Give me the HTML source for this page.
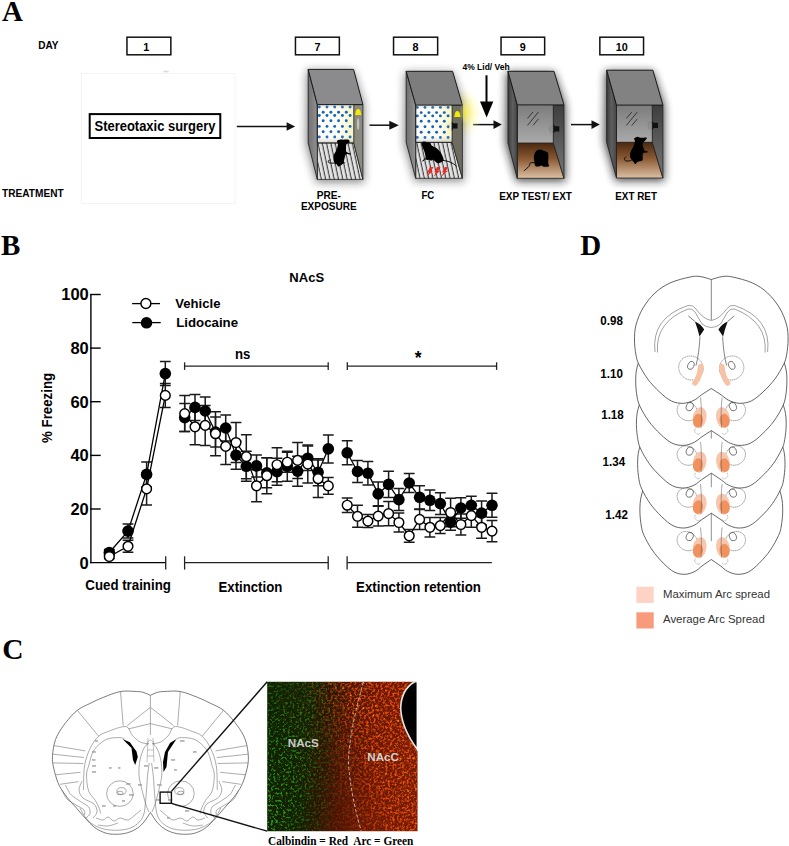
<!DOCTYPE html>
<html><head><meta charset="utf-8"><title>Figure</title>
<style>html,body{margin:0;padding:0;background:#fff;} body{width:789px;height:846px;overflow:hidden;font-family:"Liberation Sans", sans-serif;} svg{display:block;}</style>
</head><body>
<svg width="789" height="846" viewBox="0 0 789 846">
<rect width="789" height="846" fill="#fff"/>
<text x="2" y="21" font-family='"Liberation Serif", serif' font-size="29" font-weight="bold" text-anchor="start" fill="#000" >A</text>
<text x="1" y="255.3" font-family='"Liberation Serif", serif' font-size="29" font-weight="bold" text-anchor="start" fill="#000" >B</text>
<text x="2.2" y="658.5" font-family='"Liberation Serif", serif' font-size="29.5" font-weight="bold" text-anchor="start" fill="#000" >C</text>
<text x="580.3" y="255" font-family='"Liberation Serif", serif' font-size="29" font-weight="bold" text-anchor="start" fill="#000" >D</text>
<text transform="translate(38.3,48.6) scale(1,1.12)" font-family='"Liberation Sans", sans-serif' font-size="10.05" font-weight="bold" text-anchor="start" fill="#000" >DAY</text>
<text transform="translate(2.1,196.7) scale(1,1.1)" font-family='"Liberation Sans", sans-serif' font-size="10.13" font-weight="bold" text-anchor="start" fill="#000" >TREATMENT</text>
<rect x="126.95" y="37.2" width="43.89999999999999" height="17.6" fill="#fff" stroke="#111" stroke-width="1.5"/>
<text transform="translate(146.3,50.6) scale(1,1.05)" font-family='"Liberation Sans", sans-serif' font-size="10.8" font-weight="bold" text-anchor="middle" fill="#000" >1</text>
<rect x="295.45" y="37.2" width="43.900000000000034" height="17.6" fill="#fff" stroke="#111" stroke-width="1.5"/>
<text transform="translate(317.4,50.6) scale(1,1.05)" font-family='"Liberation Sans", sans-serif' font-size="10.8" font-weight="bold" text-anchor="middle" fill="#000" >7</text>
<rect x="393.55" y="37.2" width="44.099999999999966" height="17.6" fill="#fff" stroke="#111" stroke-width="1.5"/>
<text transform="translate(415.6,50.6) scale(1,1.05)" font-family='"Liberation Sans", sans-serif' font-size="10.8" font-weight="bold" text-anchor="middle" fill="#000" >8</text>
<rect x="501.05" y="37.2" width="43.599999999999966" height="17.6" fill="#fff" stroke="#111" stroke-width="1.5"/>
<text transform="translate(522.85,50.6) scale(1,1.05)" font-family='"Liberation Sans", sans-serif' font-size="10.8" font-weight="bold" text-anchor="middle" fill="#000" >9</text>
<rect x="599.85" y="37.2" width="43.69999999999993" height="17.6" fill="#fff" stroke="#111" stroke-width="1.5"/>
<text transform="translate(621.7,50.6) scale(1,1.05)" font-family='"Liberation Sans", sans-serif' font-size="10.8" font-weight="bold" text-anchor="middle" fill="#000" >10</text>
<rect x="81.5" y="73.5" width="153.5" height="130" fill="none" stroke="#f4f4f4" stroke-width="1"/>
<ellipse cx="166" cy="71.6" rx="3" ry="1" fill="#ddd"/>
<rect x="89.7" y="114.1" width="130.6" height="23.9" fill="#fff" stroke="#000" stroke-width="2"/>
<text transform="translate(155,130.8) scale(1,1.12)" font-family='"Liberation Sans", sans-serif' font-size="12.96" font-weight="bold" text-anchor="middle" fill="#000" >Stereotaxic surgery</text>
<line x1="236.8" y1="126.5" x2="287.6" y2="126.5" stroke="#111" stroke-width="1.5"/>
<polygon points="286.6,122.3 295.1,126.5 286.6,130.7" fill="#111"/>
<line x1="369.5" y1="125.2" x2="390.3" y2="125.2" stroke="#111" stroke-width="1.5"/>
<polygon points="389.3,120.7 398.8,125.2 389.3,129.7" fill="#111"/>
<line x1="473" y1="124.6" x2="494.5" y2="124.6" stroke="#111" stroke-width="1.5"/>
<polygon points="493.5,120.3 501.8,124.6 493.5,128.9" fill="#111"/>
<line x1="571" y1="124.6" x2="592.5" y2="124.6" stroke="#111" stroke-width="1.5"/>
<polygon points="591.5,120.3 599.8,124.6 591.5,128.9" fill="#111"/>
<line x1="486.5" y1="75.3" x2="486.5" y2="103" stroke="#000" stroke-width="2"/>
<polygon points="480,101.4 493.3,101.4 486.6,117.6" fill="#000"/>
<text transform="translate(462.5,70.1) scale(1,1.12)" font-family='"Liberation Sans", sans-serif' font-size="8.48" font-weight="bold" text-anchor="start" fill="#000" >4% Lid/ Veh</text>
<defs>
<filter id="blur3" x="-50%" y="-50%" width="200%" height="200%"><feGaussianBlur stdDeviation="3.2"/></filter>
<filter id="blur4" x="-50%" y="-50%" width="200%" height="200%"><feGaussianBlur stdDeviation="4"/></filter>
<filter id="blur1" x="-50%" y="-50%" width="200%" height="200%"><feGaussianBlur stdDeviation="0.6"/></filter>
<filter id="blur6" x="-50%" y="-50%" width="200%" height="200%"><feGaussianBlur stdDeviation="6"/></filter>
<linearGradient id="leftface" x1="0" y1="0" x2="1" y2="0"><stop offset="0" stop-color="#707070"/><stop offset="1" stop-color="#929292"/></linearGradient>
<linearGradient id="leftfaceD" x1="0" y1="0" x2="1" y2="0"><stop offset="0" stop-color="#3c3c3c"/><stop offset="0.5" stop-color="#5e5e5e"/><stop offset="1" stop-color="#454545"/></linearGradient>
<linearGradient id="backD" x1="0" y1="0" x2="0" y2="1"><stop offset="0" stop-color="#7c7c7c"/><stop offset="1" stop-color="#aaaaaa"/></linearGradient>
<linearGradient id="rightD" x1="0" y1="0" x2="0" y2="1"><stop offset="0" stop-color="#3e3e3e"/><stop offset="1" stop-color="#777"/></linearGradient>
<linearGradient id="floorB" x1="0" y1="0" x2="0" y2="1"><stop offset="0" stop-color="#4a2810"/><stop offset="0.45" stop-color="#8a5a34"/><stop offset="1" stop-color="#dcc0a4"/></linearGradient>
<linearGradient id="backL" x1="0" y1="0" x2="1" y2="0"><stop offset="0" stop-color="#ffffff"/><stop offset="0.6" stop-color="#fdfdf6"/><stop offset="1" stop-color="#f6f3c0"/></linearGradient>
<linearGradient id="backL0" x1="0" y1="0" x2="0" y2="1"><stop offset="0" stop-color="#777" stop-opacity="0.35"/><stop offset="0.12" stop-color="#fff" stop-opacity="0"/><stop offset="0.8" stop-color="#fff" stop-opacity="0"/><stop offset="1" stop-color="#888" stop-opacity="0.4"/></linearGradient>
<radialGradient id="glow" cx="0.5" cy="0.5" r="0.5"><stop offset="0" stop-color="#fff64a" stop-opacity="0.95"/><stop offset="0.5" stop-color="#fffa90" stop-opacity="0.5"/><stop offset="1" stop-color="#fffbd0" stop-opacity="0"/></radialGradient>
<pattern id="stripes" patternUnits="userSpaceOnUse" width="4.3" height="40" patternTransform="skewX(12)"><rect width="4.3" height="40" fill="#e2e2e2"/><rect x="3.2" width="0.95" height="40" fill="#222"/></pattern>
</defs>
<ellipse cx="464" cy="113" rx="19" ry="26" fill="url(#glow)"/>
<g filter="url(#blur4)" opacity="0.5"><polygon points="306.7,70.4 353.59999999999997,70.4 364.4,104.60000000000001 364.4,182.4 316.3,182.4 305.7,143.0" fill="#1a1a1a"/></g>
<polygon points="317.3,104.60000000000001 353.8,104.60000000000001 353.8,143.0 317.3,143.0" fill="url(#backL)"/>
<circle cx="319.3" cy="107.0" r="1.45" fill="#1463b6"/>
<circle cx="327.0" cy="107.0" r="1.45" fill="#1463b6"/>
<circle cx="334.7" cy="107.0" r="1.45" fill="#1463b6"/>
<circle cx="342.4" cy="107.0" r="1.45" fill="#1463b6"/>
<circle cx="350.1" cy="107.0" r="1.45" fill="#1463b6"/>
<circle cx="323.2" cy="112.2" r="1.45" fill="#1463b6"/>
<circle cx="330.9" cy="112.2" r="1.45" fill="#1463b6"/>
<circle cx="338.6" cy="112.2" r="1.45" fill="#1463b6"/>
<circle cx="346.3" cy="112.2" r="1.45" fill="#1463b6"/>
<circle cx="319.3" cy="115.5" r="1.45" fill="#1463b6"/>
<circle cx="327.0" cy="115.5" r="1.45" fill="#1463b6"/>
<circle cx="334.7" cy="115.5" r="1.45" fill="#1463b6"/>
<circle cx="342.4" cy="115.5" r="1.45" fill="#1463b6"/>
<circle cx="350.1" cy="115.5" r="1.45" fill="#1463b6"/>
<circle cx="323.2" cy="120.8" r="1.45" fill="#1463b6"/>
<circle cx="330.9" cy="120.8" r="1.45" fill="#1463b6"/>
<circle cx="338.6" cy="120.8" r="1.45" fill="#1463b6"/>
<circle cx="346.3" cy="120.8" r="1.45" fill="#1463b6"/>
<circle cx="319.3" cy="126.4" r="1.45" fill="#1463b6"/>
<circle cx="327.0" cy="126.4" r="1.45" fill="#1463b6"/>
<circle cx="334.7" cy="126.4" r="1.45" fill="#1463b6"/>
<circle cx="342.4" cy="126.4" r="1.45" fill="#1463b6"/>
<circle cx="350.1" cy="126.4" r="1.45" fill="#1463b6"/>
<circle cx="323.2" cy="131.7" r="1.45" fill="#1463b6"/>
<circle cx="330.9" cy="131.7" r="1.45" fill="#1463b6"/>
<circle cx="338.6" cy="131.7" r="1.45" fill="#1463b6"/>
<circle cx="346.3" cy="131.7" r="1.45" fill="#1463b6"/>
<circle cx="319.3" cy="137.0" r="1.45" fill="#1463b6"/>
<circle cx="327.0" cy="137.0" r="1.45" fill="#1463b6"/>
<circle cx="334.7" cy="137.0" r="1.45" fill="#1463b6"/>
<circle cx="342.4" cy="137.0" r="1.45" fill="#1463b6"/>
<circle cx="350.1" cy="137.0" r="1.45" fill="#1463b6"/>
<polygon points="317.3,104.60000000000001 353.8,104.60000000000001 353.8,143.0 317.3,143.0" fill="url(#backL0)"/>
<polygon points="317.3,143.0 353.8,143.0 362.9,179.4 317.3,179.4" fill="url(#stripes)" stroke="#222" stroke-width="0.8"/>
<polygon points="353.8,104.60000000000001 362.9,104.60000000000001 362.9,179.4 353.8,143.0" fill="#8a8a80" stroke="#222" stroke-width="0.8"/>
<polygon points="308.2,69.4 317.3,104.60000000000001 317.3,179.4 308.2,143.0" fill="url(#leftface)" stroke="#222" stroke-width="0.9"/>
<polygon points="308.2,69.4 353.59999999999997,69.4 362.9,104.60000000000001 317.3,104.60000000000001" fill="#8b8b8d" stroke="#1a1a1a" stroke-width="1"/>
<line x1="317.3" y1="104.60000000000001" x2="317.3" y2="143.0" stroke="#222" stroke-width="0.9"/>
<line x1="317.3" y1="143.0" x2="353.8" y2="143.0" stroke="#222" stroke-width="0.8"/>
<path d="M354.9,114.9 L355.59999999999997,112.5 Q355.9,108.9 358.2,108.9 Q360.5,108.9 360.8,112.5 L361.5,114.9 Z" fill="#f4ea00"/>
<ellipse cx="358.09999999999997" cy="124.10000000000001" rx="1.2" ry="6" fill="#c4c4bc"/>
<g filter="url(#blur4)" opacity="0.5"><polygon points="404.7,72.3 452.59999999999997,72.3 463.9,105.1 463.9,181.3 414.7,181.3 403.7,142.39999999999998" fill="#1a1a1a"/></g>
<polygon points="415.7,105.1 452.09999999999997,105.1 452.09999999999997,142.39999999999998 415.7,142.39999999999998" fill="url(#backL)"/>
<circle cx="417.3" cy="107.4" r="1.45" fill="#1463b6"/>
<circle cx="425.0" cy="107.4" r="1.45" fill="#1463b6"/>
<circle cx="432.7" cy="107.4" r="1.45" fill="#1463b6"/>
<circle cx="440.4" cy="107.4" r="1.45" fill="#1463b6"/>
<circle cx="448.1" cy="107.4" r="1.45" fill="#1463b6"/>
<circle cx="421.2" cy="112.6" r="1.45" fill="#1463b6"/>
<circle cx="428.9" cy="112.6" r="1.45" fill="#1463b6"/>
<circle cx="436.6" cy="112.6" r="1.45" fill="#1463b6"/>
<circle cx="444.3" cy="112.6" r="1.45" fill="#1463b6"/>
<circle cx="417.3" cy="115.9" r="1.45" fill="#1463b6"/>
<circle cx="425.0" cy="115.9" r="1.45" fill="#1463b6"/>
<circle cx="432.7" cy="115.9" r="1.45" fill="#1463b6"/>
<circle cx="440.4" cy="115.9" r="1.45" fill="#1463b6"/>
<circle cx="448.1" cy="115.9" r="1.45" fill="#1463b6"/>
<circle cx="421.2" cy="121.3" r="1.45" fill="#1463b6"/>
<circle cx="428.9" cy="121.3" r="1.45" fill="#1463b6"/>
<circle cx="436.6" cy="121.3" r="1.45" fill="#1463b6"/>
<circle cx="444.3" cy="121.3" r="1.45" fill="#1463b6"/>
<circle cx="417.3" cy="126.8" r="1.45" fill="#1463b6"/>
<circle cx="425.0" cy="126.8" r="1.45" fill="#1463b6"/>
<circle cx="432.7" cy="126.8" r="1.45" fill="#1463b6"/>
<circle cx="440.4" cy="126.8" r="1.45" fill="#1463b6"/>
<circle cx="448.1" cy="126.8" r="1.45" fill="#1463b6"/>
<circle cx="421.2" cy="132.2" r="1.45" fill="#1463b6"/>
<circle cx="428.9" cy="132.2" r="1.45" fill="#1463b6"/>
<circle cx="436.6" cy="132.2" r="1.45" fill="#1463b6"/>
<circle cx="444.3" cy="132.2" r="1.45" fill="#1463b6"/>
<circle cx="417.3" cy="137.5" r="1.45" fill="#1463b6"/>
<circle cx="425.0" cy="137.5" r="1.45" fill="#1463b6"/>
<circle cx="432.7" cy="137.5" r="1.45" fill="#1463b6"/>
<circle cx="440.4" cy="137.5" r="1.45" fill="#1463b6"/>
<circle cx="448.1" cy="137.5" r="1.45" fill="#1463b6"/>
<polygon points="415.7,105.1 452.09999999999997,105.1 452.09999999999997,142.39999999999998 415.7,142.39999999999998" fill="url(#backL0)"/>
<polygon points="415.7,142.39999999999998 452.09999999999997,142.39999999999998 462.4,178.3 415.7,178.3" fill="url(#stripes)" stroke="#222" stroke-width="0.8"/>
<polygon points="452.09999999999997,105.1 462.4,105.1 462.4,178.3 452.09999999999997,142.39999999999998" fill="#6c6c60" stroke="#222" stroke-width="0.8"/>
<polygon points="406.2,71.3 415.7,105.1 415.7,178.3 406.2,142.39999999999998" fill="url(#leftface)" stroke="#222" stroke-width="0.9"/>
<polygon points="406.2,71.3 452.59999999999997,71.3 462.4,105.1 415.7,105.1" fill="#7d7d7d" stroke="#1a1a1a" stroke-width="1"/>
<line x1="415.7" y1="105.1" x2="415.7" y2="142.39999999999998" stroke="#222" stroke-width="0.9"/>
<line x1="415.7" y1="142.39999999999998" x2="452.09999999999997" y2="142.39999999999998" stroke="#222" stroke-width="0.8"/>
<path d="M454.09999999999997,117.1 L454.79999999999995,114.69999999999999 Q455.09999999999997,111.1 457.4,111.1 Q459.7,111.1 460.0,114.69999999999999 L460.7,117.1 Z" fill="#f4ea00"/>
<path d="M451.8,121.19999999999999 L453.2,123.3 L457.5,123.3 L457.5,128.6 L453.2,128.6 L451.8,130.9 Z" fill="#111"/>
<path d="M449.6,121.6 Q445.6,126.1 449.6,130.6 M450.8,122.8 Q447.8,126.1 450.8,129.4" fill="none" stroke="#bbb" stroke-width="0.45" stroke-dasharray="0.8 0.5"/>
<g filter="url(#blur4)" opacity="0.78"><polygon points="506.5,72.3 554.0,72.3 565.5,104.9 565.5,181.3 516.3,181.3 505.5,143.0" fill="#1a1a1a"/></g>
<polygon points="517.3,104.9 553.3,104.9 553.3,143.0 517.3,143.0" fill="url(#backD)"/>
<polygon points="517.3,143.0 553.3,143.0 564.0,178.3 517.3,178.3" fill="url(#floorB)" stroke="#222" stroke-width="0.8"/>
<polygon points="553.3,104.9 564.0,104.9 564.0,178.3 553.3,143.0" fill="url(#rightD)" stroke="#222" stroke-width="0.8"/>
<polygon points="508.0,71.3 517.3,104.9 517.3,178.3 508.0,143.0" fill="url(#leftfaceD)" stroke="#222" stroke-width="0.9"/>
<polygon points="508.0,71.3 554.0,71.3 564.0,104.9 517.3,104.9" fill="#828282" stroke="#1a1a1a" stroke-width="1"/>
<line x1="517.3" y1="104.9" x2="517.3" y2="143.0" stroke="#222" stroke-width="0.9"/>
<line x1="527.5" y1="118.4" x2="533.0" y2="111.9" stroke="#222" stroke-width="0.8"/>
<line x1="527.5" y1="125.4" x2="538.5" y2="111.9" stroke="#222" stroke-width="0.8"/>
<line x1="533.0" y1="125.4" x2="538.5" y2="118.9" stroke="#222" stroke-width="0.8"/>
<path d="M553.6,124.1 L555.0,126.2 L559.3000000000001,126.2 L559.3000000000001,131.5 L555.0,131.5 L553.6,133.8 Z" fill="#111"/>
<path d="M551.4,124.5 Q547.4,129.0 551.4,133.5 M552.6,125.7 Q549.6,129.0 552.6,132.3" fill="none" stroke="#555" stroke-width="0.45" stroke-dasharray="0.8 0.5"/>
<g filter="url(#blur4)" opacity="0.78"><polygon points="605.2,71.2 652.9000000000001,71.2 664.4000000000001,105.1 664.4000000000001,181.0 615.5,181.0 604.2,142.3" fill="#1a1a1a"/></g>
<polygon points="616.5,105.1 652.3000000000001,105.1 652.3000000000001,142.3 616.5,142.3" fill="url(#backD)"/>
<polygon points="616.5,142.3 652.3000000000001,142.3 662.9000000000001,178.0 616.5,178.0" fill="url(#floorB)" stroke="#222" stroke-width="0.8"/>
<polygon points="652.3000000000001,105.1 662.9000000000001,105.1 662.9000000000001,178.0 652.3000000000001,142.3" fill="url(#rightD)" stroke="#222" stroke-width="0.8"/>
<polygon points="606.7,70.2 616.5,105.1 616.5,178.0 606.7,142.3" fill="url(#leftfaceD)" stroke="#222" stroke-width="0.9"/>
<polygon points="606.7,70.2 652.9000000000001,70.2 662.9000000000001,105.1 616.5,105.1" fill="#828282" stroke="#1a1a1a" stroke-width="1"/>
<line x1="616.5" y1="105.1" x2="616.5" y2="142.3" stroke="#222" stroke-width="0.9"/>
<line x1="626.2" y1="118.6" x2="631.7" y2="112.1" stroke="#222" stroke-width="0.8"/>
<line x1="626.2" y1="125.6" x2="637.2" y2="112.1" stroke="#222" stroke-width="0.8"/>
<line x1="631.7" y1="125.6" x2="637.2" y2="119.1" stroke="#222" stroke-width="0.8"/>
<path d="M652.3000000000001,120.6 L653.7,122.7 L658.0000000000001,122.7 L658.0000000000001,128.0 L653.7,128.0 L652.3000000000001,130.3 Z" fill="#111"/>
<path d="M650.1,121.0 Q646.1,125.5 650.1,130.0 M651.3000000000001,122.2 Q648.3000000000001,125.5 651.3000000000001,128.8" fill="none" stroke="#555" stroke-width="0.45" stroke-dasharray="0.8 0.5"/>
<ellipse cx="465.5" cy="112" rx="6" ry="13" fill="url(#glow)" opacity="0.7"/>
<path d="M337.7,140.3 C338.2,140.2 339.6,139.7 340.5,139.6 C341.4,139.5 342.4,139.8 343.3,139.8 C344.2,139.8 345.1,139.6 346.0,139.6 C346.9,139.6 348.0,139.4 348.6,139.8 C349.2,140.2 349.9,141.3 349.6,142.0 C349.3,142.7 347.2,143.0 346.6,144.0 C346.0,145.0 346.0,146.6 346.0,147.9 C346.0,149.2 345.8,151.0 346.6,151.9 C347.4,152.8 350.1,152.9 350.6,153.3 C351.2,153.7 350.7,154.3 349.9,154.5 C349.1,154.7 346.9,153.6 346.0,154.2 C345.1,154.8 345.0,156.5 344.7,157.8 C344.4,159.1 343.9,160.9 344.0,161.8 C344.1,162.7 345.5,162.8 345.3,163.1 C345.1,163.4 343.8,163.3 342.7,163.9 C341.6,164.5 339.7,166.5 338.7,166.6 C337.7,166.7 337.4,164.9 336.8,164.4 C336.2,163.9 335.3,164.1 334.8,163.3 C334.3,162.5 333.8,161.2 333.6,159.8 C333.4,158.5 333.5,156.5 333.8,155.2 C334.1,153.9 334.8,153.1 335.4,151.9 C336.0,150.7 336.8,149.2 337.2,147.9 C337.6,146.6 337.9,145.1 337.9,144.0 C337.8,142.9 336.9,142.1 336.9,141.5 C336.9,140.9 337.6,140.5 337.7,140.3 Z" fill="#000"/>
<path d="M335.5,163.2 C334.8,163.2 332.1,163.1 331.0,163.0 C329.9,162.9 329.2,163.1 328.8,162.7 C328.4,162.3 328.0,161.3 328.3,160.8 C328.6,160.3 330.0,160.1 330.4,159.9" fill="none" stroke="#000" stroke-width="0.9"/>
<path d="M421.6,142.2 C422.1,142.1 423.6,141.5 424.7,141.6 C425.8,141.7 427.1,142.3 428.1,142.6 C429.1,142.9 429.9,142.9 430.5,143.3 C431.1,143.7 430.9,144.6 431.5,145.2 C432.1,145.8 432.9,146.3 433.8,146.8 C434.7,147.3 435.8,147.5 436.7,148.2 C437.6,148.9 438.6,150.0 439.5,151.0 C440.4,152.0 441.2,153.3 441.8,154.4 C442.4,155.5 442.7,156.3 443.0,157.3 C443.3,158.3 444.0,159.3 443.6,160.2 C443.2,161.1 441.7,162.1 440.7,162.6 C439.7,163.1 438.6,163.3 437.8,163.2 C437.0,163.1 436.9,162.8 436.1,162.2 C435.4,161.6 434.1,160.2 433.3,159.9 C432.5,159.6 432.2,160.6 431.5,160.6 C430.8,160.6 430.0,160.0 429.3,159.9 C428.6,159.8 428.2,160.0 427.5,159.9 C426.8,159.8 425.9,159.3 425.3,159.5 C424.7,159.7 424.1,160.6 423.6,160.9 C423.1,161.2 422.4,161.6 422.3,161.4 C422.2,161.2 422.5,160.5 423.0,160.0 C423.5,159.5 424.8,159.0 425.2,158.5 C425.6,158.0 425.6,157.8 425.5,156.8 C425.4,155.8 425.0,153.7 424.6,152.3 C424.2,150.9 423.5,149.6 423.0,148.3 C422.5,147.1 422.0,145.8 421.8,144.8 C421.6,143.8 421.6,142.6 421.6,142.2 Z" fill="#000"/>
<path d="M443.0,160.4 C443.9,160.6 446.6,161.0 448.1,161.4 C449.6,161.8 451.0,162.5 452.1,163.1 C453.2,163.7 454.2,164.2 454.9,164.8 C455.6,165.4 455.9,166.2 456.1,166.5" fill="none" stroke="#000" stroke-width="0.95"/>
<path d="M540.6,149.4 C541.5,149.7 544.5,150.9 545.7,151.4 C546.9,151.9 547.5,151.8 547.9,152.7 C548.3,153.6 548.3,155.0 548.4,156.7 C548.5,158.4 548.1,161.1 548.2,162.7 C548.3,164.3 549.6,165.6 548.9,166.3 C548.1,167.0 544.9,166.9 543.7,166.8 C542.5,166.7 542.6,165.6 541.7,165.5 C540.9,165.4 539.7,166.3 538.6,166.4 C537.5,166.5 536.1,166.7 535.4,165.9 C534.7,165.1 534.6,163.2 534.4,161.7 C534.1,160.2 533.7,158.3 533.9,156.7 C534.1,155.1 534.8,153.2 535.4,152.1 C536.0,151.0 536.7,150.4 537.6,150.0 C538.5,149.6 540.1,149.5 540.6,149.4 Z" fill="#000"/>
<path d="M535.0,162.7 C534.2,162.7 531.5,162.3 530.5,162.9 C529.5,163.5 529.9,165.2 528.8,166.5 C527.7,167.8 524.7,170.2 523.9,170.9" fill="none" stroke="#000" stroke-width="0.95"/>
<path d="M634.0,138.4 C634.6,138.1 636.5,136.8 637.6,136.7 C638.7,136.6 639.1,137.6 640.6,137.8 C642.1,138.0 645.9,137.3 646.7,137.7 C647.5,138.1 645.9,139.4 645.2,140.4 C644.5,141.4 643.0,142.4 642.7,143.5 C642.4,144.6 642.9,145.8 643.2,147.0 C643.5,148.2 644.0,149.7 644.7,150.4 C645.5,151.1 647.4,151.0 647.7,151.4 C648.0,151.8 647.5,152.3 646.7,152.6 C646.0,152.9 643.9,152.5 643.2,153.2 C642.5,153.9 642.8,155.5 642.7,156.7 C642.6,157.9 643.2,159.7 642.4,160.5 C641.5,161.3 638.7,161.2 637.6,161.8 C636.5,162.4 636.3,164.0 635.6,164.0 C634.9,164.0 634.4,163.0 633.5,161.9 C632.6,160.8 630.9,159.2 630.4,157.7 C629.9,156.1 629.9,154.5 630.4,152.6 C630.9,150.7 632.5,148.4 633.3,146.5 C634.0,144.6 634.8,142.8 634.9,141.4 C635.0,140.1 634.1,138.9 634.0,138.4 Z" fill="#000"/>
<path d="M631.5,160.5 C630.9,160.6 629.0,161.0 628.0,161.0 C627.0,161.0 626.0,161.2 625.4,160.7 C624.8,160.2 624.2,158.8 624.4,158.2 C624.6,157.6 626.1,157.1 626.4,156.9" fill="none" stroke="#000" stroke-width="0.9"/>
<polygon points="430.0,167.1 433.5,167.1 431.2,171.0 432.8,171.0 426.6,176.7 428.9,172.3 427.4,172.3" fill="#ee2a26"/>
<polygon points="437.0,167.1 440.5,167.1 438.2,171.0 439.8,171.0 433.6,176.7 435.9,172.3 434.4,172.3" fill="#ee2a26"/>
<polygon points="444.7,167.1 448.2,167.1 445.9,171.0 447.5,171.0 441.3,176.7 443.6,172.3 442.1,172.3" fill="#ee2a26"/>
<text transform="translate(328.9,199.1) scale(1,1.05)" font-family='"Liberation Sans", sans-serif' font-size="10.1" font-weight="bold" text-anchor="middle" fill="#000" >PRE-</text>
<text transform="translate(328.8,209.9) scale(1,1.05)" font-family='"Liberation Sans", sans-serif' font-size="10.06" font-weight="bold" text-anchor="middle" fill="#000" >EXPOSURE</text>
<text transform="translate(427.9,199.3) scale(1,1.1)" font-family='"Liberation Sans", sans-serif' font-size="9.6" font-weight="bold" text-anchor="middle" fill="#000" >FC</text>
<text transform="translate(535.5,200.3) scale(1,1.05)" font-family='"Liberation Sans", sans-serif' font-size="9.95" font-weight="bold" text-anchor="middle" fill="#000" >EXP TEST/ EXT</text>
<text transform="translate(636.1,200.3) scale(1,1.05)" font-family='"Liberation Sans", sans-serif' font-size="9.87" font-weight="bold" text-anchor="middle" fill="#000" >EXT RET</text>
<g stroke="#000" stroke-width="1.4" fill="none">
<line x1="90.9" y1="294" x2="90.9" y2="563.3"/>
<line x1="90.2" y1="294.5" x2="100.7" y2="294.5"/>
<line x1="90.2" y1="348.1" x2="100.7" y2="348.1"/>
<line x1="90.2" y1="401.7" x2="100.7" y2="401.7"/>
<line x1="90.2" y1="455.4" x2="100.7" y2="455.4"/>
<line x1="90.2" y1="509.0" x2="100.7" y2="509.0"/>
<line x1="90.2" y1="562.6" x2="165.7" y2="562.6"/>
</g>
<g stroke="#222" stroke-width="1.3" fill="none">
<line x1="165.7" y1="556.3" x2="165.7" y2="569.6"/>
<line x1="184.6" y1="562.6" x2="328.2" y2="562.6"/><line x1="184.6" y1="556.3" x2="184.6" y2="569.6"/><line x1="328.2" y1="556.3" x2="328.2" y2="569.6"/>
<line x1="347.1" y1="562.6" x2="491.8" y2="562.6"/><line x1="347.1" y1="556.3" x2="347.1" y2="569.6"/>
<line x1="184.6" y1="366.1" x2="328.2" y2="366.1"/><line x1="184.6" y1="362.3" x2="184.6" y2="369.9"/><line x1="328.2" y1="362.3" x2="328.2" y2="369.9"/>
<line x1="347.3" y1="366.1" x2="496.6" y2="366.1"/><line x1="347.3" y1="362.3" x2="347.3" y2="369.9"/><line x1="496.6" y1="362.3" x2="496.6" y2="369.9"/>
</g>
<text x="88.8" y="300.4" font-family='"Liberation Sans", sans-serif' font-size="16.5" font-weight="bold" text-anchor="end" fill="#000" >100</text>
<text x="88.8" y="354.02" font-family='"Liberation Sans", sans-serif' font-size="16.5" font-weight="bold" text-anchor="end" fill="#000" >80</text>
<text x="88.8" y="407.64" font-family='"Liberation Sans", sans-serif' font-size="16.5" font-weight="bold" text-anchor="end" fill="#000" >60</text>
<text x="88.8" y="461.26" font-family='"Liberation Sans", sans-serif' font-size="16.5" font-weight="bold" text-anchor="end" fill="#000" >40</text>
<text x="88.8" y="514.88" font-family='"Liberation Sans", sans-serif' font-size="16.5" font-weight="bold" text-anchor="end" fill="#000" >20</text>
<text x="88.8" y="568.5" font-family='"Liberation Sans", sans-serif' font-size="16.5" font-weight="bold" text-anchor="end" fill="#000" >0</text>
<text transform="translate(306.7,281.9) scale(1,1.05)" font-family='"Liberation Sans", sans-serif' font-size="13.03" font-weight="bold" text-anchor="middle" fill="#000" >NAcS</text>
<text transform="translate(242.6,359.4) scale(1,1.07)" font-family='"Liberation Sans", sans-serif' font-size="13.2" font-weight="bold" text-anchor="middle" fill="#000" >ns</text>
<text x="418.1" y="363.8" font-family='"Liberation Sans", sans-serif' font-size="17.5" font-weight="bold" text-anchor="middle" fill="#000" >*</text>
<text x="0" y="0" font-family='"Liberation Sans", sans-serif' font-size="13.3" font-weight="bold" text-anchor="middle" fill="#000" transform="translate(51.7,407.9) rotate(-90) scale(1,1.1)">% Freezing</text>
<text transform="translate(128.1,589.7) scale(1,1.06)" font-family='"Liberation Sans", sans-serif' font-size="13.3" font-weight="bold" text-anchor="middle" fill="#000" >Cued training</text>
<text transform="translate(250.4,591.6) scale(1,1.08)" font-family='"Liberation Sans", sans-serif' font-size="13.2" font-weight="bold" text-anchor="middle" fill="#000" >Extinction</text>
<text transform="translate(418.5,591.6) scale(1,1.08)" font-family='"Liberation Sans", sans-serif' font-size="13.3" font-weight="bold" text-anchor="middle" fill="#000" >Extinction retention</text>
<g stroke="#000" stroke-width="1.3"><line x1="132.1" y1="303.6" x2="160" y2="303.6"/><line x1="132.3" y1="322.6" x2="160.7" y2="322.6"/></g>
<circle cx="145.9" cy="303.5" r="4.95" fill="#fff" stroke="#000" stroke-width="1.45"/>
<circle cx="146.5" cy="322.8" r="5.8" fill="#000"/>
<text x="175.3" y="307.8" font-family='"Liberation Sans", sans-serif' font-size="13.1" font-weight="bold" text-anchor="start" fill="#000" >Vehicle</text>
<text x="176.2" y="327.2" font-family='"Liberation Sans", sans-serif' font-size="13.25" font-weight="bold" text-anchor="start" fill="#000" >Lidocaine</text>
<g stroke="#1a1a1a" stroke-width="1.5" fill="none">
<path d="M109.3,549.5 V555.5 M103.9,549.5 H114.7 M103.9,555.5 H114.7"/>
<path d="M128.0,524.1 V538.1 M122.6,524.1 H133.4 M122.6,538.1 H133.4"/>
<path d="M146.6,461.9 V486.9 M141.2,461.9 H152.0 M141.2,486.9 H152.0"/>
<path d="M165.3,361.6 V385.6 M159.9,361.6 H170.7 M159.9,385.6 H170.7"/>
<path d="M109.3,554.5 V558.5 M103.9,554.5 H114.7 M103.9,558.5 H114.7"/>
<path d="M128.0,540.3 V552.3 M122.6,540.3 H133.4 M122.6,552.3 H133.4"/>
<path d="M146.6,472.9 V504.9 M141.2,472.9 H152.0 M141.2,504.9 H152.0"/>
<path d="M165.3,383.4 V407.4 M159.9,383.4 H170.7 M159.9,407.4 H170.7"/>
<path d="M184.7,403.6 V431.6 M179.3,403.6 H190.1 M179.3,431.6 H190.1"/>
<path d="M195.0,394.4 V420.4 M189.6,394.4 H200.4 M189.6,420.4 H200.4"/>
<path d="M205.2,397.0 V425.0 M199.8,397.0 H210.6 M199.8,425.0 H210.6"/>
<path d="M215.5,417.0 V447.0 M210.1,417.0 H220.9 M210.1,447.0 H220.9"/>
<path d="M225.7,415.0 V441.0 M220.3,415.0 H231.1 M220.3,441.0 H231.1"/>
<path d="M236.0,441.2 V469.2 M230.6,441.2 H241.4 M230.6,469.2 H241.4"/>
<path d="M246.3,451.3 V481.3 M240.9,451.3 H251.7 M240.9,481.3 H251.7"/>
<path d="M256.5,454.9 V476.9 M251.1,454.9 H261.9 M251.1,476.9 H261.9"/>
<path d="M266.8,457.8 V487.8 M261.4,457.8 H272.2 M261.4,487.8 H272.2"/>
<path d="M277.0,458.2 V485.2 M271.6,458.2 H282.4 M271.6,485.2 H282.4"/>
<path d="M287.3,451.3 V481.3 M281.9,451.3 H292.7 M281.9,481.3 H292.7"/>
<path d="M297.6,456.2 V486.2 M292.2,456.2 H303.0 M292.2,486.2 H303.0"/>
<path d="M307.8,445.9 V470.5 M302.4,445.9 H313.2 M302.4,470.5 H313.2"/>
<path d="M318.1,458.8 V485.8 M312.7,458.8 H323.5 M312.7,485.8 H323.5"/>
<path d="M328.3,434.9 V462.9 M322.9,434.9 H333.7 M322.9,462.9 H333.7"/>
<path d="M184.7,395.6 V431.6 M179.3,395.6 H190.1 M179.3,431.6 H190.1"/>
<path d="M195.0,408.8 V444.8 M189.6,408.8 H200.4 M189.6,444.8 H200.4"/>
<path d="M205.2,405.4 V445.4 M199.8,405.4 H210.6 M199.8,445.4 H210.6"/>
<path d="M215.5,411.7 V455.7 M210.1,411.7 H220.9 M210.1,455.7 H220.9"/>
<path d="M225.7,428.4 V464.4 M220.3,428.4 H231.1 M220.3,464.4 H231.1"/>
<path d="M236.0,422.5 V462.5 M230.6,422.5 H241.4 M230.6,462.5 H241.4"/>
<path d="M246.3,434.7 V478.7 M240.9,434.7 H251.7 M240.9,478.7 H251.7"/>
<path d="M256.5,469.8 V501.8 M251.1,469.8 H261.9 M251.1,501.8 H261.9"/>
<path d="M266.8,457.7 V493.7 M261.4,457.7 H272.2 M261.4,493.7 H272.2"/>
<path d="M277.0,447.7 V481.7 M271.6,447.7 H282.4 M271.6,481.7 H282.4"/>
<path d="M287.3,452.2 V472.2 M281.9,452.2 H292.7 M281.9,472.2 H292.7"/>
<path d="M297.6,442.4 V478.4 M292.2,442.4 H303.0 M292.2,478.4 H303.0"/>
<path d="M307.8,445.0 V483.0 M302.4,445.0 H313.2 M302.4,483.0 H313.2"/>
<path d="M318.1,460.0 V497.4 M312.7,460.0 H323.5 M312.7,497.4 H323.5"/>
<path d="M328.3,477.5 V494.3 M322.9,477.5 H333.7 M322.9,494.3 H333.7"/>
<path d="M347.2,440.8 V464.8 M341.8,440.8 H352.6 M341.8,464.8 H352.6"/>
<path d="M357.5,460.5 V482.5 M352.1,460.5 H362.9 M352.1,482.5 H362.9"/>
<path d="M367.9,461.5 V484.9 M362.5,461.5 H373.3 M362.5,484.9 H373.3"/>
<path d="M378.2,482.1 V505.7 M372.8,482.1 H383.6 M372.8,505.7 H383.6"/>
<path d="M388.6,471.2 V497.6 M383.2,471.2 H394.0 M383.2,497.6 H394.0"/>
<path d="M398.9,488.6 V510.6 M393.5,488.6 H404.3 M393.5,510.6 H404.3"/>
<path d="M409.2,473.5 V492.5 M403.8,473.5 H414.6 M403.8,492.5 H414.6"/>
<path d="M419.6,485.7 V508.9 M414.2,485.7 H425.0 M414.2,508.9 H425.0"/>
<path d="M429.9,490.0 V510.6 M424.5,490.0 H435.3 M424.5,510.6 H435.3"/>
<path d="M440.3,492.8 V514.4 M434.9,492.8 H445.7 M434.9,514.4 H445.7"/>
<path d="M450.6,514.2 V530.2 M445.2,514.2 H456.0 M445.2,530.2 H456.0"/>
<path d="M460.9,497.7 V518.3 M455.5,497.7 H466.3 M455.5,518.3 H466.3"/>
<path d="M471.3,496.3 V514.3 M465.9,496.3 H476.7 M465.9,514.3 H476.7"/>
<path d="M481.6,501.1 V525.1 M476.2,501.1 H487.0 M476.2,525.1 H487.0"/>
<path d="M492.0,493.3 V517.3 M486.6,493.3 H497.4 M486.6,517.3 H497.4"/>
<path d="M347.2,497.9 V512.5 M341.8,497.9 H352.6 M341.8,512.5 H352.6"/>
<path d="M357.5,505.3 V527.3 M352.1,505.3 H362.9 M352.1,527.3 H362.9"/>
<path d="M367.9,514.6 V527.6 M362.5,514.6 H373.3 M362.5,527.6 H373.3"/>
<path d="M378.2,506.3 V525.9 M372.8,506.3 H383.6 M372.8,525.9 H383.6"/>
<path d="M388.6,501.4 V525.8 M383.2,501.4 H394.0 M383.2,525.8 H394.0"/>
<path d="M398.9,513.0 V532.0 M393.5,513.0 H404.3 M393.5,532.0 H404.3"/>
<path d="M409.2,529.4 V542.2 M403.8,529.4 H414.6 M403.8,542.2 H414.6"/>
<path d="M419.6,509.4 V529.4 M414.2,509.4 H425.0 M414.2,529.4 H425.0"/>
<path d="M429.9,517.6 V537.0 M424.5,517.6 H435.3 M424.5,537.0 H435.3"/>
<path d="M440.3,517.6 V533.6 M434.9,517.6 H445.7 M434.9,533.6 H445.7"/>
<path d="M450.6,498.3 V526.7 M445.2,498.3 H456.0 M445.2,526.7 H456.0"/>
<path d="M460.9,513.9 V535.1 M455.5,513.9 H466.3 M455.5,535.1 H466.3"/>
<path d="M471.3,503.9 V527.3 M465.9,503.9 H476.7 M465.9,527.3 H476.7"/>
<path d="M481.6,516.4 V538.2 M476.2,516.4 H487.0 M476.2,538.2 H487.0"/>
<path d="M492.0,520.5 V541.7 M486.6,520.5 H497.4 M486.6,541.7 H497.4"/>
</g>
<polyline points="109.3,552.5 128.0,531.1 146.6,474.4 165.3,373.6" fill="none" stroke="#000" stroke-width="1.3"/>
<polyline points="109.3,556.5 128.0,546.3 146.6,488.9 165.3,395.4" fill="none" stroke="#000" stroke-width="1.3"/>
<polyline points="184.7,417.6 195.0,407.4 205.2,411.0 215.5,432.0 225.7,428.0 236.0,455.2 246.3,466.3 256.5,465.9 266.8,472.8 277.0,471.7 287.3,466.3 297.6,471.2 307.8,458.2 318.1,472.3 328.3,448.9" fill="none" stroke="#000" stroke-width="1.3"/>
<polyline points="184.7,413.6 195.0,426.8 205.2,425.4 215.5,433.7 225.7,446.4 236.0,442.5 246.3,456.7 256.5,485.8 266.8,475.7 277.0,464.7 287.3,462.2 297.6,460.4 307.8,464.0 318.1,478.7 328.3,485.9" fill="none" stroke="#000" stroke-width="1.3"/>
<polyline points="347.2,452.8 357.5,471.5 367.9,473.2 378.2,493.9 388.6,484.4 398.9,499.6 409.2,483.0 419.6,497.3 429.9,500.3 440.3,503.6 450.6,522.2 460.9,508.0 471.3,505.3 481.6,513.1 492.0,505.3" fill="none" stroke="#000" stroke-width="1.3"/>
<polyline points="347.2,505.2 357.5,516.3 367.9,521.1 378.2,516.1 388.6,513.6 398.9,522.5 409.2,535.8 419.6,519.4 429.9,527.3 440.3,525.6 450.6,512.5 460.9,524.5 471.3,515.6 481.6,527.3 492.0,531.1" fill="none" stroke="#000" stroke-width="1.3"/>
<circle cx="109.3" cy="552.5" r="5.8" fill="#000"/>
<circle cx="128.0" cy="531.1" r="5.8" fill="#000"/>
<circle cx="146.6" cy="474.4" r="5.8" fill="#000"/>
<circle cx="165.3" cy="373.6" r="5.8" fill="#000"/>
<circle cx="109.3" cy="556.5" r="4.85" fill="#fff" stroke="#000" stroke-width="1.45"/>
<circle cx="128.0" cy="546.3" r="4.85" fill="#fff" stroke="#000" stroke-width="1.45"/>
<circle cx="146.6" cy="488.9" r="4.85" fill="#fff" stroke="#000" stroke-width="1.45"/>
<circle cx="165.3" cy="395.4" r="4.85" fill="#fff" stroke="#000" stroke-width="1.45"/>
<circle cx="184.7" cy="417.6" r="5.8" fill="#000"/>
<circle cx="195.0" cy="407.4" r="5.8" fill="#000"/>
<circle cx="205.2" cy="411.0" r="5.8" fill="#000"/>
<circle cx="215.5" cy="432.0" r="5.8" fill="#000"/>
<circle cx="225.7" cy="428.0" r="5.8" fill="#000"/>
<circle cx="236.0" cy="455.2" r="5.8" fill="#000"/>
<circle cx="246.3" cy="466.3" r="5.8" fill="#000"/>
<circle cx="256.5" cy="465.9" r="5.8" fill="#000"/>
<circle cx="266.8" cy="472.8" r="5.8" fill="#000"/>
<circle cx="277.0" cy="471.7" r="5.8" fill="#000"/>
<circle cx="287.3" cy="466.3" r="5.8" fill="#000"/>
<circle cx="297.6" cy="471.2" r="5.8" fill="#000"/>
<circle cx="307.8" cy="458.2" r="5.8" fill="#000"/>
<circle cx="318.1" cy="472.3" r="5.8" fill="#000"/>
<circle cx="328.3" cy="448.9" r="5.8" fill="#000"/>
<circle cx="184.7" cy="413.6" r="4.85" fill="#fff" stroke="#000" stroke-width="1.45"/>
<circle cx="195.0" cy="426.8" r="4.85" fill="#fff" stroke="#000" stroke-width="1.45"/>
<circle cx="205.2" cy="425.4" r="4.85" fill="#fff" stroke="#000" stroke-width="1.45"/>
<circle cx="215.5" cy="433.7" r="4.85" fill="#fff" stroke="#000" stroke-width="1.45"/>
<circle cx="225.7" cy="446.4" r="4.85" fill="#fff" stroke="#000" stroke-width="1.45"/>
<circle cx="236.0" cy="442.5" r="4.85" fill="#fff" stroke="#000" stroke-width="1.45"/>
<circle cx="246.3" cy="456.7" r="4.85" fill="#fff" stroke="#000" stroke-width="1.45"/>
<circle cx="256.5" cy="485.8" r="4.85" fill="#fff" stroke="#000" stroke-width="1.45"/>
<circle cx="266.8" cy="475.7" r="4.85" fill="#fff" stroke="#000" stroke-width="1.45"/>
<circle cx="277.0" cy="464.7" r="4.85" fill="#fff" stroke="#000" stroke-width="1.45"/>
<circle cx="287.3" cy="462.2" r="4.85" fill="#fff" stroke="#000" stroke-width="1.45"/>
<circle cx="297.6" cy="460.4" r="4.85" fill="#fff" stroke="#000" stroke-width="1.45"/>
<circle cx="307.8" cy="464.0" r="4.85" fill="#fff" stroke="#000" stroke-width="1.45"/>
<circle cx="318.1" cy="478.7" r="4.85" fill="#fff" stroke="#000" stroke-width="1.45"/>
<circle cx="328.3" cy="485.9" r="4.85" fill="#fff" stroke="#000" stroke-width="1.45"/>
<circle cx="347.2" cy="452.8" r="5.8" fill="#000"/>
<circle cx="357.5" cy="471.5" r="5.8" fill="#000"/>
<circle cx="367.9" cy="473.2" r="5.8" fill="#000"/>
<circle cx="378.2" cy="493.9" r="5.8" fill="#000"/>
<circle cx="388.6" cy="484.4" r="5.8" fill="#000"/>
<circle cx="398.9" cy="499.6" r="5.8" fill="#000"/>
<circle cx="409.2" cy="483.0" r="5.8" fill="#000"/>
<circle cx="419.6" cy="497.3" r="5.8" fill="#000"/>
<circle cx="429.9" cy="500.3" r="5.8" fill="#000"/>
<circle cx="440.3" cy="503.6" r="5.8" fill="#000"/>
<circle cx="450.6" cy="522.2" r="5.8" fill="#000"/>
<circle cx="460.9" cy="508.0" r="5.8" fill="#000"/>
<circle cx="471.3" cy="505.3" r="5.8" fill="#000"/>
<circle cx="481.6" cy="513.1" r="5.8" fill="#000"/>
<circle cx="492.0" cy="505.3" r="5.8" fill="#000"/>
<circle cx="347.2" cy="505.2" r="4.85" fill="#fff" stroke="#000" stroke-width="1.45"/>
<circle cx="357.5" cy="516.3" r="4.85" fill="#fff" stroke="#000" stroke-width="1.45"/>
<circle cx="367.9" cy="521.1" r="4.85" fill="#fff" stroke="#000" stroke-width="1.45"/>
<circle cx="378.2" cy="516.1" r="4.85" fill="#fff" stroke="#000" stroke-width="1.45"/>
<circle cx="388.6" cy="513.6" r="4.85" fill="#fff" stroke="#000" stroke-width="1.45"/>
<circle cx="398.9" cy="522.5" r="4.85" fill="#fff" stroke="#000" stroke-width="1.45"/>
<circle cx="409.2" cy="535.8" r="4.85" fill="#fff" stroke="#000" stroke-width="1.45"/>
<circle cx="419.6" cy="519.4" r="4.85" fill="#fff" stroke="#000" stroke-width="1.45"/>
<circle cx="429.9" cy="527.3" r="4.85" fill="#fff" stroke="#000" stroke-width="1.45"/>
<circle cx="440.3" cy="525.6" r="4.85" fill="#fff" stroke="#000" stroke-width="1.45"/>
<circle cx="450.6" cy="512.5" r="4.85" fill="#fff" stroke="#000" stroke-width="1.45"/>
<circle cx="460.9" cy="524.5" r="4.85" fill="#fff" stroke="#000" stroke-width="1.45"/>
<circle cx="471.3" cy="515.6" r="4.85" fill="#fff" stroke="#000" stroke-width="1.45"/>
<circle cx="481.6" cy="527.3" r="4.85" fill="#fff" stroke="#000" stroke-width="1.45"/>
<circle cx="492.0" cy="531.1" r="4.85" fill="#fff" stroke="#000" stroke-width="1.45"/>
<g id="panelD">
<path d="M711.3,450.5 C709.5,450.0 704.1,447.9 700.8,447.5 C697.5,447.1 696.1,446.9 691.5,448.0 C686.8,449.1 678.3,451.3 672.9,454.0 C667.5,456.7 663.1,459.8 658.9,464.0 C654.8,468.2 650.7,473.7 647.8,479.0 C644.8,484.3 642.6,490.7 641.3,496.0 C640.0,501.3 639.9,506.0 639.9,511.0 C639.9,516.0 640.6,521.9 641.3,526.0 C642.0,530.1 642.2,531.5 644.1,535.5 C645.9,539.5 649.0,545.4 652.2,550.0 C655.3,554.6 659.5,559.3 663.2,563.0 C666.9,566.7 670.5,570.1 674.2,572.0 C677.9,573.9 681.7,574.4 685.2,574.3 C688.7,574.2 692.3,572.7 695.1,571.3 C697.9,569.9 699.3,568.0 702.0,566.0 C704.7,564.0 709.8,560.6 711.3,559.5 L711.3,559.5 C712.8,560.6 717.9,564.0 720.6,566.0 C723.3,568.0 724.7,569.9 727.5,571.3 C730.3,572.7 733.9,574.2 737.4,574.3 C740.9,574.4 744.7,573.9 748.4,572.0 C752.1,570.1 755.7,566.7 759.4,563.0 C763.1,559.3 767.3,554.6 770.4,550.0 C773.6,545.4 776.7,539.5 778.5,535.5 C780.4,531.5 780.6,530.1 781.3,526.0 C782.0,521.9 782.7,516.0 782.7,511.0 C782.7,506.0 782.6,501.3 781.3,496.0 C780.0,490.7 777.8,484.3 774.8,479.0 C771.9,473.7 767.8,468.2 763.7,464.0 C759.5,459.8 755.1,456.7 749.7,454.0 C744.3,451.3 735.8,449.1 731.1,448.0 C726.5,446.9 725.1,447.1 721.8,447.5 C718.5,447.9 713.1,450.0 711.3,450.5 Z" fill="#fff" stroke="#333" stroke-width="0.75"/>
<ellipse cx="687.2" cy="541.1" rx="10.5" ry="9.2" transform="rotate(35 687.2 541.1)" fill="none" stroke="#555" stroke-width="0.5" stroke-dasharray="1.6 0.4"/>
<ellipse cx="689.7" cy="536.6" rx="3.4" ry="4.3" transform="rotate(20 689.7 536.6)" fill="none" stroke="#333" stroke-width="0.6"/>
<ellipse cx="699.3" cy="547.5" rx="6.8" ry="10.6" transform="rotate(10 698.5 549.5)" fill="#f8c6ac"/>
<ellipse cx="698.2" cy="550.7" rx="5" ry="6.8" transform="rotate(10 698.5 549.5)" fill="#f0915e"/>
<path d="M700.5,527.5 Q702.0,539.5 701.0,557.5" fill="none" stroke="#555" stroke-width="0.5"/>
<path d="M695.5,558.5 q-2,3 1,5 q3,2 4,-1" fill="none" stroke="#666" stroke-width="0.5" stroke-dasharray="1 0.5"/>
<ellipse cx="735.4" cy="541.1" rx="10.5" ry="9.2" transform="rotate(-35 735.4 541.1)" fill="none" stroke="#555" stroke-width="0.5" stroke-dasharray="1.6 0.4"/>
<ellipse cx="732.9" cy="536.6" rx="3.4" ry="4.3" transform="rotate(-20 732.9 536.6)" fill="none" stroke="#333" stroke-width="0.6"/>
<ellipse cx="723.3" cy="547.5" rx="6.8" ry="10.6" transform="rotate(-10 724.1 549.5)" fill="#f8c6ac"/>
<ellipse cx="724.4" cy="550.7" rx="5" ry="6.8" transform="rotate(-10 724.1 549.5)" fill="#f0915e"/>
<path d="M722.1,527.5 Q720.6,539.5 721.6,557.5" fill="none" stroke="#555" stroke-width="0.5"/>
<path d="M727.1,558.5 q2,3 -1,5 q-3,2 -4,-1" fill="none" stroke="#666" stroke-width="0.5" stroke-dasharray="1 0.5"/>
<path d="M711.3,404.2 C709.5,403.7 703.9,401.6 700.5,401.2 C697.0,400.8 695.7,400.6 690.9,401.7 C686.1,402.8 677.3,405.0 671.7,407.7 C666.1,410.4 661.6,413.5 657.3,417.7 C652.9,421.9 648.8,427.4 645.7,432.7 C642.7,438.0 640.4,444.4 639.0,449.7 C637.7,455.0 637.6,459.7 637.6,464.7 C637.6,469.7 638.3,475.6 639.0,479.7 C639.7,483.8 640.0,485.2 641.9,489.2 C643.8,493.2 646.9,499.1 650.2,503.7 C653.5,508.3 657.9,513.0 661.7,516.7 C665.5,520.4 669.2,523.8 673.0,525.7 C676.8,527.6 680.7,528.1 684.3,528.0 C687.9,527.9 691.7,526.4 694.6,525.0 C697.5,523.6 698.9,521.7 701.7,519.7 C704.5,517.7 709.7,514.3 711.3,513.2 L711.3,513.2 C712.9,514.3 718.1,517.7 720.9,519.7 C723.7,521.7 725.1,523.6 728.0,525.0 C730.9,526.4 734.7,527.9 738.3,528.0 C741.9,528.1 745.8,527.6 749.6,525.7 C753.4,523.8 757.1,520.4 760.9,516.7 C764.7,513.0 769.1,508.3 772.4,503.7 C775.7,499.1 778.8,493.2 780.7,489.2 C782.6,485.2 782.9,483.8 783.6,479.7 C784.3,475.6 785.0,469.7 785.0,464.7 C785.0,459.7 784.9,455.0 783.6,449.7 C782.2,444.4 779.9,438.0 776.9,432.7 C773.8,427.4 769.7,421.9 765.3,417.7 C761.0,413.5 756.5,410.4 750.9,407.7 C745.3,405.0 736.5,402.8 731.7,401.7 C726.9,400.6 725.6,400.8 722.1,401.2 C718.7,401.6 713.1,403.7 711.3,404.2 Z" fill="#fff" stroke="#333" stroke-width="0.75"/>
<ellipse cx="687.2" cy="497.6" rx="10.5" ry="9.2" transform="rotate(35 687.2 497.6)" fill="none" stroke="#555" stroke-width="0.5" stroke-dasharray="1.6 0.4"/>
<ellipse cx="689.7" cy="493.1" rx="3.4" ry="4.3" transform="rotate(20 689.7 493.1)" fill="none" stroke="#333" stroke-width="0.6"/>
<ellipse cx="699.3" cy="504.0" rx="6.8" ry="10.6" transform="rotate(10 698.5 506.0)" fill="#f8c6ac"/>
<ellipse cx="698.2" cy="507.2" rx="5" ry="6.8" transform="rotate(10 698.5 506.0)" fill="#f0915e"/>
<path d="M700.5,484.0 Q702.0,496.0 701.0,514.0" fill="none" stroke="#555" stroke-width="0.5"/>
<path d="M695.5,515.0 q-2,3 1,5 q3,2 4,-1" fill="none" stroke="#666" stroke-width="0.5" stroke-dasharray="1 0.5"/>
<ellipse cx="735.4" cy="497.6" rx="10.5" ry="9.2" transform="rotate(-35 735.4 497.6)" fill="none" stroke="#555" stroke-width="0.5" stroke-dasharray="1.6 0.4"/>
<ellipse cx="732.9" cy="493.1" rx="3.4" ry="4.3" transform="rotate(-20 732.9 493.1)" fill="none" stroke="#333" stroke-width="0.6"/>
<ellipse cx="723.3" cy="504.0" rx="6.8" ry="10.6" transform="rotate(-10 724.1 506.0)" fill="#f8c6ac"/>
<ellipse cx="724.4" cy="507.2" rx="5" ry="6.8" transform="rotate(-10 724.1 506.0)" fill="#f0915e"/>
<path d="M722.1,484.0 Q720.6,496.0 721.6,514.0" fill="none" stroke="#555" stroke-width="0.5"/>
<path d="M727.1,515.0 q2,3 -1,5 q-3,2 -4,-1" fill="none" stroke="#666" stroke-width="0.5" stroke-dasharray="1 0.5"/>
<path d="M711.3,513.2 L711.3,541.2" stroke="#444" stroke-width="0.6" fill="none"/>
<path d="M711.3,364.2 C709.5,363.7 703.7,361.6 700.3,361.2 C696.8,360.8 695.4,360.6 690.5,361.7 C685.7,362.8 676.7,365.0 671.0,367.7 C665.3,370.4 660.8,373.5 656.4,377.7 C652.0,381.9 647.8,387.4 644.7,392.7 C641.6,398.0 639.3,404.4 637.9,409.7 C636.5,415.0 636.4,419.7 636.4,424.7 C636.4,429.7 637.2,435.6 637.9,439.7 C638.6,443.8 638.9,445.2 640.8,449.2 C642.7,453.2 645.9,459.1 649.3,463.7 C652.6,468.3 657.0,473.0 660.9,476.7 C664.7,480.4 668.6,483.8 672.4,485.7 C676.2,487.6 680.2,488.1 683.9,488.0 C687.6,487.9 691.4,486.4 694.3,485.0 C697.3,483.6 698.7,481.7 701.5,479.7 C704.4,477.7 709.7,474.3 711.3,473.2 L711.3,473.2 C712.9,474.3 718.2,477.7 721.0,479.7 C723.9,481.7 725.3,483.6 728.3,485.0 C731.2,486.4 735.0,487.9 738.7,488.0 C742.4,488.1 746.4,487.6 750.2,485.7 C754.0,483.8 757.9,480.4 761.7,476.7 C765.6,473.0 770.0,468.3 773.3,463.7 C776.7,459.1 779.9,453.2 781.8,449.2 C783.7,445.2 784.0,443.8 784.7,439.7 C785.4,435.6 786.2,429.7 786.2,424.7 C786.2,419.7 786.1,415.0 784.7,409.7 C783.3,404.4 781.0,398.0 777.9,392.7 C774.8,387.4 770.6,381.9 766.2,377.7 C761.8,373.5 757.3,370.4 751.6,367.7 C745.9,365.0 736.9,362.8 732.1,361.7 C727.2,360.6 725.8,360.8 722.3,361.2 C718.9,361.6 713.1,363.7 711.3,364.2 Z" fill="#fff" stroke="#333" stroke-width="0.75"/>
<ellipse cx="687.2" cy="455.6" rx="10.5" ry="9.2" transform="rotate(35 687.2 455.6)" fill="none" stroke="#555" stroke-width="0.5" stroke-dasharray="1.6 0.4"/>
<ellipse cx="689.7" cy="451.1" rx="3.4" ry="4.3" transform="rotate(20 689.7 451.1)" fill="none" stroke="#333" stroke-width="0.6"/>
<ellipse cx="699.3" cy="462.0" rx="6.8" ry="10.6" transform="rotate(10 698.5 464.0)" fill="#f8c6ac"/>
<ellipse cx="698.2" cy="465.2" rx="5" ry="6.8" transform="rotate(10 698.5 464.0)" fill="#f0915e"/>
<path d="M700.5,442.0 Q702.0,454.0 701.0,472.0" fill="none" stroke="#555" stroke-width="0.5"/>
<path d="M695.5,473.0 q-2,3 1,5 q3,2 4,-1" fill="none" stroke="#666" stroke-width="0.5" stroke-dasharray="1 0.5"/>
<ellipse cx="735.4" cy="455.6" rx="10.5" ry="9.2" transform="rotate(-35 735.4 455.6)" fill="none" stroke="#555" stroke-width="0.5" stroke-dasharray="1.6 0.4"/>
<ellipse cx="732.9" cy="451.1" rx="3.4" ry="4.3" transform="rotate(-20 732.9 451.1)" fill="none" stroke="#333" stroke-width="0.6"/>
<ellipse cx="723.3" cy="462.0" rx="6.8" ry="10.6" transform="rotate(-10 724.1 464.0)" fill="#f8c6ac"/>
<ellipse cx="724.4" cy="465.2" rx="5" ry="6.8" transform="rotate(-10 724.1 464.0)" fill="#f0915e"/>
<path d="M722.1,442.0 Q720.6,454.0 721.6,472.0" fill="none" stroke="#555" stroke-width="0.5"/>
<path d="M727.1,473.0 q2,3 -1,5 q-3,2 -4,-1" fill="none" stroke="#666" stroke-width="0.5" stroke-dasharray="1 0.5"/>
<path d="M711.3,473.2 L711.3,487.2" stroke="#444" stroke-width="0.6" fill="none"/>
<path d="M711.3,321.6 C709.4,321.1 703.7,319.0 700.2,318.6 C696.7,318.2 695.2,318.0 690.3,319.1 C685.4,320.2 676.4,322.4 670.6,325.1 C664.9,327.8 660.3,330.9 655.8,335.1 C651.4,339.3 647.1,344.8 644.0,350.1 C640.9,355.4 638.5,361.8 637.1,367.1 C635.7,372.4 635.7,377.1 635.7,382.1 C635.7,387.1 636.4,393.0 637.1,397.1 C637.9,401.2 638.2,402.6 640.1,406.6 C642.0,410.6 645.3,416.5 648.7,421.1 C652.0,425.7 656.5,430.4 660.4,434.1 C664.3,437.8 668.1,441.2 672.0,443.1 C675.9,445.0 679.9,445.5 683.6,445.4 C687.3,445.3 691.2,443.8 694.2,442.4 C697.1,441.0 698.6,439.1 701.4,437.1 C704.3,435.1 709.7,431.7 711.3,430.6 L711.3,430.6 C712.9,431.7 718.3,435.1 721.1,437.1 C724.0,439.1 725.5,441.0 728.4,442.4 C731.4,443.8 735.3,445.3 739.0,445.4 C742.7,445.5 746.7,445.0 750.6,443.1 C754.5,441.2 758.3,437.8 762.2,434.1 C766.1,430.4 770.6,425.7 773.9,421.1 C777.3,416.5 780.6,410.6 782.5,406.6 C784.4,402.6 784.7,401.2 785.5,397.1 C786.2,393.0 786.9,387.1 786.9,382.1 C786.9,377.1 786.9,372.4 785.5,367.1 C784.1,361.8 781.7,355.4 778.6,350.1 C775.5,344.8 771.2,339.3 766.8,335.1 C762.3,330.9 757.7,327.8 752.0,325.1 C746.2,322.4 737.2,320.2 732.3,319.1 C727.4,318.0 725.9,318.2 722.4,318.6 C718.9,319.0 713.2,321.1 711.3,321.6 Z" fill="#fff" stroke="#333" stroke-width="0.75"/>
<ellipse cx="687.2" cy="411.1" rx="10.5" ry="9.2" transform="rotate(35 687.2 411.1)" fill="none" stroke="#555" stroke-width="0.5" stroke-dasharray="1.6 0.4"/>
<ellipse cx="689.7" cy="406.6" rx="3.4" ry="4.3" transform="rotate(20 689.7 406.6)" fill="none" stroke="#333" stroke-width="0.6"/>
<ellipse cx="699.3" cy="417.5" rx="6.8" ry="10.6" transform="rotate(10 698.5 419.5)" fill="#f8c6ac"/>
<ellipse cx="698.2" cy="420.7" rx="5" ry="6.8" transform="rotate(10 698.5 419.5)" fill="#f0915e"/>
<path d="M700.5,397.5 Q702.0,409.5 701.0,427.5" fill="none" stroke="#555" stroke-width="0.5"/>
<path d="M695.5,428.5 q-2,3 1,5 q3,2 4,-1" fill="none" stroke="#666" stroke-width="0.5" stroke-dasharray="1 0.5"/>
<ellipse cx="735.4" cy="411.1" rx="10.5" ry="9.2" transform="rotate(-35 735.4 411.1)" fill="none" stroke="#555" stroke-width="0.5" stroke-dasharray="1.6 0.4"/>
<ellipse cx="732.9" cy="406.6" rx="3.4" ry="4.3" transform="rotate(-20 732.9 406.6)" fill="none" stroke="#333" stroke-width="0.6"/>
<ellipse cx="723.3" cy="417.5" rx="6.8" ry="10.6" transform="rotate(-10 724.1 419.5)" fill="#f8c6ac"/>
<ellipse cx="724.4" cy="420.7" rx="5" ry="6.8" transform="rotate(-10 724.1 419.5)" fill="#f0915e"/>
<path d="M722.1,397.5 Q720.6,409.5 721.6,427.5" fill="none" stroke="#555" stroke-width="0.5"/>
<path d="M727.1,428.5 q2,3 -1,5 q-3,2 -4,-1" fill="none" stroke="#666" stroke-width="0.5" stroke-dasharray="1 0.5"/>
<path d="M711.3,430.6 L711.3,438.6" stroke="#444" stroke-width="0.6" fill="none"/>
<path d="M711.3,279.5 C709.4,279.0 703.5,276.9 700.0,276.5 C696.5,276.1 695.0,275.9 690.0,277.0 C685.0,278.1 675.8,280.3 670.0,283.0 C664.2,285.7 659.5,288.8 655.0,293.0 C650.5,297.2 646.2,302.7 643.0,308.0 C639.8,313.3 637.4,319.7 636.0,325.0 C634.6,330.3 634.5,335.0 634.5,340.0 C634.5,345.0 635.2,350.9 636.0,355.0 C636.8,359.1 637.0,360.5 639.0,364.5 C641.0,368.5 644.3,374.4 647.7,379.0 C651.1,383.6 655.6,388.3 659.6,392.0 C663.5,395.7 667.5,399.1 671.4,401.0 C675.3,402.9 679.4,403.4 683.2,403.3 C686.9,403.2 690.9,401.7 693.9,400.3 C696.9,398.9 698.4,397.0 701.3,395.0 C704.2,393.0 709.6,389.6 711.3,388.5 L711.3,388.5 C713.0,389.6 718.4,393.0 721.3,395.0 C724.2,397.0 725.7,398.9 728.7,400.3 C731.7,401.7 735.6,403.2 739.4,403.3 C743.1,403.4 747.3,402.9 751.2,401.0 C755.1,399.1 759.0,395.7 763.0,392.0 C767.0,388.3 771.5,383.6 774.9,379.0 C778.3,374.4 781.6,368.5 783.6,364.5 C785.5,360.5 785.8,359.1 786.6,355.0 C787.3,350.9 788.1,345.0 788.1,340.0 C788.1,335.0 788.0,330.3 786.6,325.0 C785.2,319.7 782.8,313.3 779.6,308.0 C776.4,302.7 772.1,297.2 767.6,293.0 C763.1,288.8 758.4,285.7 752.6,283.0 C746.8,280.3 737.6,278.1 732.6,277.0 C727.6,275.9 726.1,276.1 722.6,276.5 C719.0,276.9 713.2,279.0 711.3,279.5 Z" fill="#fff" stroke="#333" stroke-width="0.75"/>
<ellipse cx="691.0" cy="368.0" rx="12.5" ry="11.8" transform="rotate(35 691.0 368.0)" fill="none" stroke="#555" stroke-width="0.5" stroke-dasharray="1.4 0.5"/>
<ellipse cx="690.9" cy="365.4" rx="3" ry="4.2" transform="rotate(25 690.9 365.4)" fill="none" stroke="#333" stroke-width="0.6"/>
<path d="M700.7,366.5 Q699.7,377.5 695.0,383.0" fill="none" stroke="#f7c2a6" stroke-width="5.5" stroke-linecap="round"/>
<path d="M700.0,336.5 Q699.0,354.5 696.0,365.5" fill="none" stroke="#333" stroke-width="0.6"/>
<ellipse cx="731.6" cy="368.0" rx="12.5" ry="11.8" transform="rotate(-35 731.6 368.0)" fill="none" stroke="#555" stroke-width="0.5" stroke-dasharray="1.4 0.5"/>
<ellipse cx="731.7" cy="365.4" rx="3" ry="4.2" transform="rotate(-25 731.7 365.4)" fill="none" stroke="#333" stroke-width="0.6"/>
<path d="M721.9,366.5 Q722.9,377.5 727.6,383.0" fill="none" stroke="#f7c2a6" stroke-width="5.5" stroke-linecap="round"/>
<path d="M722.6,336.5 Q723.6,354.5 726.6,365.5" fill="none" stroke="#333" stroke-width="0.6"/>
<path d="M711.3,279.5 L711.3,320" stroke="#333" stroke-width="0.6" fill="none"/>
<path d="M655,352 Q651,318 688,305.5 Q693,304.5 696,309 Q703,319 711.3,320.5 Q719.6,319 726.6,309 Q729.6,304.5 734.6,305.5 Q771.6,318 767.6,352" fill="none" stroke="#555" stroke-width="0.55"/>
<path d="M657.5,352.5 Q655,322 688,309 Q692,308 695,312 L702,324 Q711.3,331 720.6,324 L727.6,312 Q730.6,308 734.6,309 Q767.6,322 765.1,352.5" fill="none" stroke="#555" stroke-width="0.55"/>
<path d="M694.9,321.4 Q701,324 704.2,329.5 L699.5,336.5 Q697.5,328 694.9,321.4 Z" fill="#111"/>
<path d="M727.7,321.4 Q721.6,324 718.4,329.5 L723.1,336.5 Q725.1,328 727.7,321.4 Z" fill="#111"/>
<path d="M688.4,316 L694.9,321.4 M734.2,316 L727.7,321.4" stroke="#222" stroke-width="0.6" fill="none"/>
</g>
<text transform="translate(600.3,325) scale(1,1.1)" font-family='"Liberation Sans", sans-serif' font-size="11.6" font-weight="bold" text-anchor="start" fill="#000" >0.98</text>
<text transform="translate(600.3,378.2) scale(1,1.1)" font-family='"Liberation Sans", sans-serif' font-size="11.6" font-weight="bold" text-anchor="start" fill="#000" >1.10</text>
<text transform="translate(601.2,419.3) scale(1,1.1)" font-family='"Liberation Sans", sans-serif' font-size="11.6" font-weight="bold" text-anchor="start" fill="#000" >1.18</text>
<text transform="translate(602.6,466.4) scale(1,1.1)" font-family='"Liberation Sans", sans-serif' font-size="11.6" font-weight="bold" text-anchor="start" fill="#000" >1.34</text>
<text transform="translate(605.3,519.4) scale(1,1.1)" font-family='"Liberation Sans", sans-serif' font-size="11.6" font-weight="bold" text-anchor="start" fill="#000" >1.42</text>
<rect x="636.4" y="586.7" width="17.3" height="16.2" fill="#fcd3c4"/>
<rect x="636.4" y="612.3" width="17.3" height="16.2" fill="#f89b7d"/>
<text x="663" y="598.3" font-family='"Liberation Sans", sans-serif' font-size="11.4" font-weight="normal" text-anchor="start" fill="#333" >Maximum Arc spread</text>
<text x="663" y="623.4" font-family='"Liberation Sans", sans-serif' font-size="11.4" font-weight="normal" text-anchor="start" fill="#333" >Average Arc Spread</text>
<path d="M150.4,695.3 C149.2,694.8 145.3,692.9 143.0,692.3 C140.7,691.7 140.2,691.6 136.5,691.5 C132.8,691.4 126.0,690.5 120.5,691.5 C115.0,692.5 108.3,695.4 103.2,697.4 C98.1,699.4 94.2,701.4 89.9,703.5 C85.6,705.6 81.3,707.2 77.3,710.3 C73.3,713.4 69.2,718.3 66.0,722.3 C62.8,726.3 60.0,730.4 58.0,734.2 C56.0,738.0 54.9,740.7 54.0,744.9 C53.1,749.1 52.3,754.7 52.4,759.3 C52.5,763.9 53.6,767.9 54.7,772.3 C55.9,776.7 57.2,781.4 59.3,785.6 C61.4,789.8 64.4,793.8 67.3,797.6 C70.2,801.4 73.5,804.7 76.6,808.2 C79.7,811.8 83.0,815.8 85.9,818.9 C88.8,822.0 91.0,824.7 93.9,826.9 C96.8,829.1 100.1,831.0 103.2,832.2 C106.3,833.4 109.0,834.0 112.5,834.2 C116.0,834.4 120.7,834.3 124.5,833.5 C128.3,832.7 132.1,831.3 135.2,829.5 C138.3,827.7 140.7,825.7 143.2,822.9 C145.7,820.1 149.2,814.2 150.4,812.5 L150.4,812.5 C151.6,814.2 155.1,820.1 157.6,822.9 C160.1,825.7 162.5,827.7 165.6,829.5 C168.7,831.3 172.5,832.7 176.3,833.5 C180.1,834.3 184.8,834.4 188.3,834.2 C191.9,834.0 194.5,833.4 197.6,832.2 C200.7,831.0 204.0,829.1 206.9,826.9 C209.8,824.7 212.0,822.0 214.9,818.9 C217.8,815.8 221.1,811.8 224.2,808.2 C227.3,804.7 230.6,801.4 233.5,797.6 C236.4,793.8 239.4,789.8 241.5,785.6 C243.6,781.4 245.0,776.7 246.1,772.3 C247.3,767.9 248.3,763.9 248.4,759.3 C248.5,754.7 247.7,749.1 246.8,744.9 C245.9,740.7 244.8,738.0 242.8,734.2 C240.8,730.4 238.0,726.3 234.8,722.3 C231.6,718.3 227.5,713.4 223.5,710.3 C219.5,707.2 215.2,705.6 210.9,703.5 C206.6,701.4 202.7,699.4 197.6,697.4 C192.5,695.4 185.9,692.5 180.3,691.5 C174.8,690.5 168.1,691.4 164.3,691.5 C160.6,691.6 160.1,691.7 157.8,692.3 C155.5,692.9 151.6,694.8 150.4,695.3 Z" fill="#fff" stroke="#444" stroke-width="0.7"/>
<g fill="none" stroke="#666" stroke-width="0.55">
<path d="M120.5,691.5 L123.2,725.6"/>
<path d="M77.3,710.3 L98.6,736.2"/>
<path d="M150.0,707.6 L127.2,725.6"/>
<path d="M150.4,723.6 L128.5,728.9"/>
<path d="M54.0,745.6 L85.3,750.9"/>
<path d="M52.7,754.2 L83.9,757.5"/>
<path d="M52.6,762.9 L83.2,763.5"/>
<path d="M55.5,774.8 L80.6,772.3"/>
<path d="M60.0,784.3 L78.6,781.6"/>
<path d="M83.5,790.0 C83.7,786.0 83.4,772.9 84.5,766.0 C85.6,759.1 87.6,753.9 89.9,748.9 C92.2,743.9 95.3,739.2 98.6,736.2 C101.9,733.2 106.0,732.5 109.9,730.9 C113.8,729.3 118.9,727.4 121.9,726.9 C124.9,726.4 126.1,726.1 127.9,727.6 C129.7,729.1 130.4,733.2 132.5,735.6 C134.6,738.0 137.8,740.9 140.5,742.2 C143.2,743.5 147.2,743.4 148.5,743.6"/>
<path d="M88.6,766.0 C89.5,763.4 91.0,754.6 93.9,750.2 C96.8,745.8 101.7,741.7 105.9,739.6 C110.1,737.5 116.1,737.7 119.2,737.6 C122.3,737.5 123.6,738.7 124.5,738.9"/>
<path d="M88.6,766.0 C88.2,767.5 86.5,770.9 86.5,775.0 C86.5,779.1 87.1,786.7 88.6,790.9 C90.0,795.1 93.4,797.3 95.2,800.2 C97.0,803.1 98.3,806.0 99.2,808.2 C100.1,810.4 100.4,812.7 100.6,813.6"/>
<path d="M80.0,808.0 C80.8,809.4 82.5,813.5 84.6,816.2 C86.7,818.9 89.0,822.0 92.6,824.2 C96.1,826.4 100.8,828.6 105.9,829.5 C111.0,830.4 118.3,830.5 123.2,829.8 C128.1,829.1 131.9,827.8 135.2,825.5 C138.5,823.2 141.4,820.6 143.2,816.2 C145.0,811.8 145.1,805.5 145.8,798.9 C146.5,792.2 146.9,782.3 147.5,776.3 C148.1,770.3 148.9,765.2 149.2,763.0"/>
<path d="M65.3,785.0 C65.8,785.8 67.0,788.3 68.0,790.0 C69.0,791.7 69.2,793.1 71.3,795.0 C73.4,796.9 77.7,799.6 80.6,801.6 C83.5,803.6 87.0,804.9 88.6,806.9 C90.1,808.9 90.3,811.8 89.9,813.6 C89.5,815.5 86.7,817.3 86.0,818.0"/>
<path d="M62.0,790.0 C62.8,791.5 64.7,796.5 67.0,799.0 C69.3,801.5 73.2,803.2 76.0,805.0 C78.8,806.8 82.6,808.3 84.0,810.0 C85.4,811.7 84.4,814.2 84.5,815.0"/>
<path d="M82.0,781.0 C81.5,782.5 78.8,787.2 79.0,790.0 C79.2,792.8 80.5,795.7 83.0,798.0 C85.5,800.3 91.7,801.7 94.0,804.0 C96.3,806.3 97.2,809.7 97.0,812.0 C96.8,814.3 93.7,817.0 93.0,818.0"/>
<path d="M96.0,818.0 C97.2,818.3 101.0,820.2 103.0,820.0 C105.0,819.8 106.2,816.8 108.0,817.0 C109.8,817.2 112.0,820.8 114.0,821.0 C116.0,821.2 117.7,818.2 120.0,818.0 C122.3,817.8 125.5,820.5 128.0,820.0 C130.5,819.5 132.8,816.7 135.0,815.0 C137.2,813.3 140.0,810.8 141.0,810.0"/>
<path d="M98.0,825.0 C99.7,825.2 104.7,826.3 108.0,826.0 C111.3,825.7 116.3,823.5 118.0,823.0"/>
<ellipse cx="119.9" cy="793.6" rx="13.3" ry="12.8"/>
<ellipse cx="121.5" cy="791" rx="4.6" ry="3.4"/>
<ellipse cx="120.0" cy="793" rx="3.2" ry="1.8"/>
<path d="M148.5,743.6 C147.8,744.3 145.4,745.3 144.0,748.0 C142.6,750.7 140.8,755.5 140.0,760.0 C139.2,764.5 138.7,770.0 139.0,775.0 C139.3,780.0 140.8,785.0 142.0,790.0 C143.2,795.0 144.8,801.3 146.0,805.0 C147.2,808.7 148.5,810.8 149.0,812.0"/>
<path d="M180.3,691.5 L177.6,725.6"/>
<path d="M223.5,710.3 L202.2,736.2"/>
<path d="M150.8,707.6 L173.6,725.6"/>
<path d="M150.4,723.6 L172.3,728.9"/>
<path d="M246.8,745.6 L215.5,750.9"/>
<path d="M248.1,754.2 L216.9,757.5"/>
<path d="M248.2,762.9 L217.6,763.5"/>
<path d="M245.3,774.8 L220.2,772.3"/>
<path d="M240.8,784.3 L222.2,781.6"/>
<path d="M217.3,790.0 C217.1,786.0 217.4,772.9 216.3,766.0 C215.2,759.1 213.2,753.9 210.9,748.9 C208.6,743.9 205.5,739.2 202.2,736.2 C198.9,733.2 194.8,732.5 190.9,730.9 C187.0,729.3 181.9,727.4 178.9,726.9 C175.9,726.4 174.7,726.1 172.9,727.6 C171.1,729.1 170.4,733.2 168.3,735.6 C166.2,738.0 163.0,740.9 160.3,742.2 C157.6,743.5 153.6,743.4 152.3,743.6"/>
<path d="M212.2,766.0 C211.3,763.4 209.8,754.6 206.9,750.2 C204.0,745.8 199.1,741.7 194.9,739.6 C190.7,737.5 184.7,737.7 181.6,737.6 C178.5,737.5 177.2,738.7 176.3,738.9"/>
<path d="M212.2,766.0 C212.6,767.5 214.3,770.9 214.3,775.0 C214.3,779.1 213.7,786.7 212.2,790.9 C210.8,795.1 207.4,797.3 205.6,800.2 C203.8,803.1 202.5,806.0 201.6,808.2 C200.7,810.4 200.4,812.7 200.2,813.6"/>
<path d="M220.8,808.0 C220.0,809.4 218.3,813.5 216.2,816.2 C214.1,818.9 211.8,822.0 208.2,824.2 C204.7,826.4 200.0,828.6 194.9,829.5 C189.8,830.4 182.5,830.5 177.6,829.8 C172.7,829.1 168.9,827.8 165.6,825.5 C162.3,823.2 159.4,820.6 157.6,816.2 C155.8,811.8 155.7,805.5 155.0,798.9 C154.3,792.2 153.9,782.3 153.3,776.3 C152.7,770.3 151.9,765.2 151.6,763.0"/>
<path d="M235.5,785.0 C235.1,785.8 233.8,788.3 232.8,790.0 C231.8,791.7 231.6,793.1 229.5,795.0 C227.4,796.9 223.1,799.6 220.2,801.6 C217.3,803.6 213.8,804.9 212.2,806.9 C210.7,808.9 210.5,811.8 210.9,813.6 C211.3,815.5 214.2,817.3 214.8,818.0"/>
<path d="M238.8,790.0 C238.0,791.5 236.1,796.5 233.8,799.0 C231.5,801.5 227.6,803.2 224.8,805.0 C222.0,806.8 218.2,808.3 216.8,810.0 C215.4,811.7 216.4,814.2 216.3,815.0"/>
<path d="M218.8,781.0 C219.3,782.5 222.0,787.2 221.8,790.0 C221.6,792.8 220.3,795.7 217.8,798.0 C215.3,800.3 209.1,801.7 206.8,804.0 C204.5,806.3 203.6,809.7 203.8,812.0 C204.0,814.3 207.1,817.0 207.8,818.0"/>
<path d="M204.8,818.0 C203.6,818.3 199.8,820.2 197.8,820.0 C195.8,819.8 194.6,816.8 192.8,817.0 C191.0,817.2 188.8,820.8 186.8,821.0 C184.8,821.2 183.1,818.2 180.8,818.0 C178.5,817.8 175.3,820.5 172.8,820.0 C170.3,819.5 168.0,816.7 165.8,815.0 C163.6,813.3 160.8,810.8 159.8,810.0"/>
<path d="M202.8,825.0 C201.1,825.2 196.1,826.3 192.8,826.0 C189.5,825.7 184.5,823.5 182.8,823.0"/>
<ellipse cx="180.9" cy="793.6" rx="13.3" ry="12.8"/>
<ellipse cx="179.3" cy="791" rx="4.6" ry="3.4"/>
<ellipse cx="180.8" cy="793" rx="3.2" ry="1.8"/>
<path d="M152.3,743.6 C153.1,744.3 155.4,745.3 156.8,748.0 C158.2,750.7 160.0,755.5 160.8,760.0 C161.6,764.5 162.1,770.0 161.8,775.0 C161.5,780.0 160.0,785.0 158.8,790.0 C157.6,795.0 156.0,801.3 154.8,805.0 C153.6,808.7 152.3,810.8 151.8,812.0"/>
</g>
<path d="M150.4,695.3 L150.4,735" stroke="#666" stroke-width="0.55" fill="none"/>
<g fill="none" stroke="#777" stroke-width="0.45">
<path d="M148,738 L147,762 M153,738 L154,762 M146,745 Q150.4,735 155,745 M147.5,750 L153.5,750 M147,756 L154,756"/>
</g>
<path d="M122.5,738.9 L129.9,742.2 L136.5,751.5 L137.8,757 L135.2,765 L133,760 L131.5,748 Z" fill="#000"/>
<path d="M176.5,738.9 L170,743 L165,752 L163,762 L163.5,772 L166.5,767 L168,752 Z" fill="#000"/>
<rect x="95" y="740.3" width="3.1" height="1.3" fill="#999"/>
<rect x="92" y="751.3" width="3.9" height="1.3" fill="#999"/>
<rect x="92" y="759.3" width="3.4" height="1.3" fill="#999"/>
<rect x="92" y="765.3" width="4.0" height="1.3" fill="#999"/>
<rect x="92" y="771.3" width="4.1" height="1.3" fill="#999"/>
<rect x="109" y="767.3" width="2.7" height="1.3" fill="#999"/>
<rect x="118" y="767.3" width="2.5" height="1.3" fill="#999"/>
<rect x="126" y="783.3" width="4.6" height="1.3" fill="#999"/>
<rect x="122" y="800.3" width="3.1" height="1.3" fill="#999"/>
<rect x="113" y="805.3" width="3.1" height="1.3" fill="#999"/>
<rect x="129" y="794.3" width="5.0" height="1.3" fill="#999"/>
<rect x="102" y="805.3" width="3.7" height="1.3" fill="#999"/>
<rect x="180" y="740.3" width="4.6" height="1.3" fill="#999"/>
<rect x="193" y="751.3" width="3.7" height="1.3" fill="#999"/>
<rect x="171" y="759.3" width="4.1" height="1.3" fill="#999"/>
<rect x="174" y="769.3" width="2.9" height="1.3" fill="#999"/>
<rect x="138" y="784.3" width="4.1" height="1.3" fill="#999"/>
<rect x="157" y="784.3" width="4.7" height="1.3" fill="#999"/>
<rect x="156" y="799.3" width="3.8" height="1.3" fill="#999"/>
<rect x="168" y="799.3" width="4.4" height="1.3" fill="#999"/>
<rect x="185" y="810.3" width="4.2" height="1.3" fill="#999"/>
<rect x="167" y="817.3" width="2.7" height="1.3" fill="#999"/>
<rect x="154" y="767.3" width="4.4" height="1.3" fill="#999"/>
<rect x="144" y="765.3" width="4.0" height="1.3" fill="#999"/>
<defs>
<linearGradient id="micro" x1="0" y1="0" x2="1" y2="0.1">
<stop offset="0" stop-color="#0a2205"/><stop offset="0.3" stop-color="#102005"/><stop offset="0.42" stop-color="#261604"/><stop offset="0.55" stop-color="#4c1204"/><stop offset="0.75" stop-color="#6a1604"/><stop offset="1" stop-color="#741a05"/></linearGradient>
<linearGradient id="gmaskg" x1="0" y1="0" x2="1" y2="0.3"><stop offset="0" stop-color="#fff"/><stop offset="0.3" stop-color="#eee"/><stop offset="0.5" stop-color="#666"/><stop offset="0.68" stop-color="#222"/><stop offset="1" stop-color="#151515"/></linearGradient>
<linearGradient id="gmaskv" x1="0" y1="0" x2="0" y2="1"><stop offset="0" stop-color="#000" stop-opacity="0.6"/><stop offset="0.5" stop-color="#000" stop-opacity="0.25"/><stop offset="1" stop-color="#000" stop-opacity="0"/></linearGradient>
<linearGradient id="rmaskg" x1="0" y1="0.15" x2="1" y2="-0.15"><stop offset="0" stop-color="#141414"/><stop offset="0.25" stop-color="#333"/><stop offset="0.42" stop-color="#8a8a8a"/><stop offset="0.56" stop-color="#eee"/><stop offset="1" stop-color="#fff"/></linearGradient>
<mask id="gmask" maskUnits="userSpaceOnUse" x="267" y="681" width="151" height="151"><rect x="267.2" y="681.8" width="150.3" height="149.4" fill="url(#gmaskg)"/><rect x="267.2" y="681.8" width="150.3" height="149.4" fill="url(#gmaskv)"/></mask>
<mask id="rmask" maskUnits="userSpaceOnUse" x="267" y="681" width="151" height="151"><rect x="267.2" y="681.8" width="150.3" height="149.4" fill="url(#rmaskg)"/></mask>
<filter id="gnoise" x="267.2" y="681.8" width="150.3" height="149.4" filterUnits="userSpaceOnUse" color-interpolation-filters="sRGB">
<feTurbulence type="fractalNoise" baseFrequency="0.42" numOctaves="2" seed="5" result="t"/>
<feColorMatrix in="t" type="matrix" values="0 0 0 0 0.18  0 0 0 0 0.7  0 0 0 0 0.1  5.5 0 0 0 -2.9" result="c"/>
<feGaussianBlur in="c" stdDeviation="0.5"/>
</filter>
<filter id="rnoise" x="267.2" y="681.8" width="150.3" height="149.4" filterUnits="userSpaceOnUse" color-interpolation-filters="sRGB">
<feTurbulence type="fractalNoise" baseFrequency="0.42" numOctaves="2" seed="9" result="t"/>
<feColorMatrix in="t" type="matrix" values="0 0 0 0 0.92  0 0 0 0 0.28  0 0 0 0 0.04  4.2 0 0 0 -1.95" result="c"/>
<feGaussianBlur in="c" stdDeviation="0.5"/>
</filter>
<filter id="ynoise" x="267.2" y="681.8" width="150.3" height="149.4" filterUnits="userSpaceOnUse" color-interpolation-filters="sRGB">
<feTurbulence type="fractalNoise" baseFrequency="0.4" numOctaves="1" seed="21" result="t"/>
<feColorMatrix in="t" type="matrix" values="0 0 0 0 0.96  0 0 0 0 0.55  0 0 0 0 0.06  0 5 0 0 -3.1" result="c"/>
<feGaussianBlur in="c" stdDeviation="0.3"/>
</filter>
<clipPath id="mclip"><rect x="267.2" y="681.8" width="150.3" height="149.4"/></clipPath>
</defs>
<rect x="267.2" y="681.8" width="150.3" height="149.4" fill="url(#micro)"/>
<g mask="url(#gmask)"><rect x="267.2" y="681.8" width="150.3" height="149.4" fill="#fff" filter="url(#gnoise)"/></g>
<g mask="url(#rmask)"><rect x="267.2" y="681.8" width="150.3" height="149.4" fill="#fff" filter="url(#rnoise)"/></g>
<g mask="url(#rmask)"><rect x="267.2" y="681.8" width="150.3" height="149.4" fill="#fff" filter="url(#ynoise)"/></g>
<path d="M414.6,681.8 Q401,690 400.7,708.5 Q401.5,728 417.5,749.5 L417.5,681.8 Z" fill="#000" stroke="#e6e6e6" stroke-width="1.6"/>
<rect x="416.8" y="681" width="2" height="70" fill="#fff"/>
<path d="M363.4,681.8 Q346,745 349,770 Q352,800 361.3,831.2" fill="none" stroke="#dedede" stroke-width="0.8" stroke-dasharray="3.2 2.2"/>
<text x="303.3" y="746.9" font-family='"Liberation Sans", sans-serif' font-size="11.6" font-weight="bold" text-anchor="middle" fill="#c9c9c9" >NAcS</text>
<text x="383.1" y="760.9" font-family='"Liberation Sans", sans-serif' font-size="11.6" font-weight="bold" text-anchor="middle" fill="#d0d0d0" >NAcC</text>
<text transform="translate(340.7,844.6) scale(1,1.05)" font-family='"Liberation Serif", serif' font-size="11.35" font-weight="bold" text-anchor="middle" fill="#000" xml:space="preserve">Calbindin = Red  Arc = Green</text>
<rect x="160.1" y="792.1" width="11.3" height="11.2" fill="none" stroke="#111" stroke-width="1.4"/>
<line x1="171.4" y1="791.4" x2="267.2" y2="681.8" stroke="#111" stroke-width="1.4"/>
<line x1="171.4" y1="803.3" x2="267.2" y2="831.2" stroke="#111" stroke-width="1.4"/>
</svg>
</body></html>
